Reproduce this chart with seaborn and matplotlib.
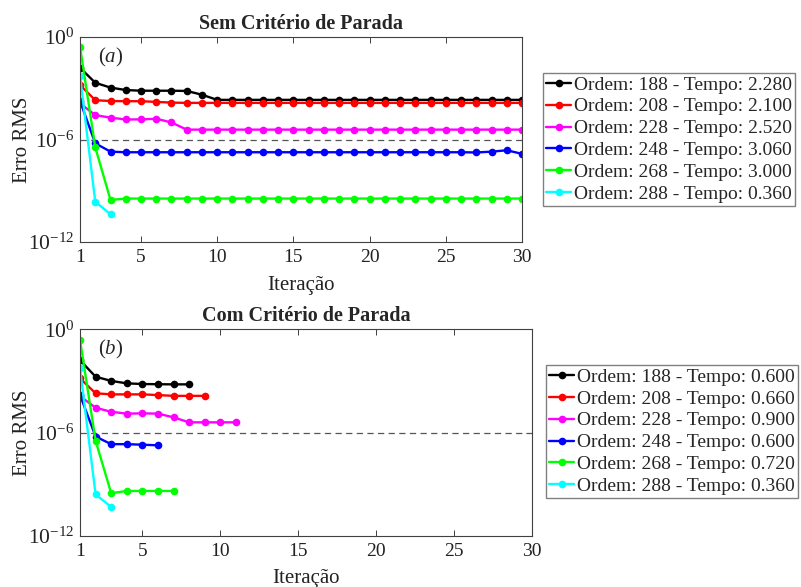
import numpy as np
import pandas as pd
import matplotlib
matplotlib.use("Agg")
import matplotlib.pyplot as plt
import seaborn as sns

# ---- data -------------------------------------------------------------
ordens = [188, 208, 228, 248, 268, 288]
cores = ["#000000", "#ff0000", "#ff00ff", "#0000ff", "#00ff00", "#00ffff"]

tempo_sem = ["2.280", "2.100", "2.520", "3.060", "3.000", "0.360"]
tempo_com = ["0.600", "0.660", "0.900", "0.600", "0.720", "0.360"]

# RMS error per iteration, without stopping criterion (30 iterations)
sem_188 = [1.6e-2, 2.1e-3, 1.1e-3, 7.9e-4, 7.2e-4, 7.2e-4, 7.2e-4, 7.0e-4, 4.2e-4, 2.1e-4,
           2.1e-4, 2.1e-4, 2.1e-4, 2.1e-4, 2.1e-4, 2.1e-4, 2.1e-4, 2.1e-4, 2.1e-4, 2.1e-4,
           2.1e-4, 2.1e-4, 2.1e-4, 2.1e-4, 2.1e-4, 2.1e-4, 2.1e-4, 2.1e-4, 2.1e-4, 2.1e-4]
sem_208 = [1.55e-3, 2.0e-4, 1.8e-4, 1.75e-4, 1.75e-4, 1.6e-4, 1.45e-4, 1.4e-4, 1.4e-4, 1.4e-4,
           1.4e-4, 1.4e-4, 1.4e-4, 1.4e-4, 1.4e-4, 1.4e-4, 1.4e-4, 1.4e-4, 1.4e-4, 1.4e-4,
           1.4e-4, 1.4e-4, 1.4e-4, 1.4e-4, 1.4e-4, 1.4e-4, 1.4e-4, 1.4e-4, 1.4e-4, 1.4e-4]
sem_228 = [1.3e-4, 2.7e-5, 1.9e-5, 1.5e-5, 1.5e-5, 1.65e-5, 1.0e-5, 3.8e-6, 3.8e-6, 3.8e-6,
           3.8e-6, 3.8e-6, 3.8e-6, 3.8e-6, 3.8e-6, 3.8e-6, 3.8e-6, 3.8e-6, 3.8e-6, 3.8e-6,
           3.8e-6, 3.8e-6, 3.8e-6, 3.8e-6, 3.8e-6, 3.8e-6, 3.8e-6, 3.8e-6, 3.8e-6, 3.8e-6]
sem_248 = [1.8e-4, 6.0e-7, 1.95e-7, 1.8e-7, 1.8e-7, 1.8e-7, 1.8e-7, 1.8e-7, 1.8e-7, 1.8e-7,
           1.8e-7, 1.8e-7, 1.8e-7, 1.8e-7, 1.8e-7, 1.8e-7, 1.8e-7, 1.8e-7, 1.8e-7, 1.8e-7,
           1.8e-7, 1.8e-7, 1.8e-7, 1.8e-7, 1.8e-7, 1.8e-7, 1.75e-7, 1.95e-7, 2.35e-7, 1.45e-7]
sem_268 = [2.7e-1, 3.5e-7, 2.9e-10, 3.5e-10, 3.5e-10, 3.5e-10, 3.5e-10, 3.5e-10, 3.5e-10, 3.5e-10,
           3.5e-10, 3.5e-10, 3.5e-10, 3.5e-10, 3.5e-10, 3.5e-10, 3.5e-10, 3.5e-10, 3.5e-10, 3.5e-10,
           3.5e-10, 3.5e-10, 3.5e-10, 3.5e-10, 3.5e-10, 3.5e-10, 3.5e-10, 3.5e-10, 3.5e-10, 3.5e-10]
sem_288 = [5.2e-3, 2.3e-10, 4.2e-11]

# RMS error per iteration, with stopping criterion
com_188 = [1.6e-2, 1.75e-3, 1.0e-3, 7.2e-4, 6.6e-4, 6.4e-4, 6.3e-4, 6.3e-4]
com_208 = [1.4e-3, 1.9e-4, 1.65e-4, 1.65e-4, 1.65e-4, 1.5e-4, 1.35e-4, 1.35e-4, 1.35e-4]
com_228 = [1.3e-4, 2.75e-5, 1.6e-5, 1.25e-5, 1.3e-5, 1.25e-5, 7.6e-6, 3.9e-6, 3.9e-6, 3.9e-6, 3.9e-6]
com_248 = [1.5e-4, 5.8e-7, 2.1e-7, 2.1e-7, 1.95e-7, 1.8e-7]
com_268 = [2.4e-1, 3.3e-7, 2.95e-10, 4.0e-10, 4.0e-10, 4.0e-10, 4.0e-10]
com_288 = [5.4e-3, 2.5e-10, 4.7e-11]

tolerancia = 1e-6
x_ticks = [1, 5, 10, 15, 20, 25, 30]
y_ticks = [1e0, 1e-6, 1e-12]


def montar(series, tempos):
    linhas = []
    for ordem, tempo, erros in zip(ordens, tempos, series):
        rotulo = f"Ordem: {ordem} - Tempo: {tempo}"
        for i, e in enumerate(erros, start=1):
            linhas.append({"Iteração": i, "Erro": e, "serie": rotulo})
    return pd.DataFrame(linhas)


df_sem = montar([sem_188, sem_208, sem_228, sem_248, sem_268, sem_288], tempo_sem)
df_com = montar([com_188, com_208, com_228, com_248, com_268, com_288], tempo_com)

# ---- style ------------------------------------------------------------
sns.set_style("ticks")
plt.rcParams["font.family"] = ["Liberation Serif", "DejaVu Serif"]
plt.rcParams["mathtext.fontset"] = "custom"
plt.rcParams["mathtext.rm"] = "Liberation Serif"
plt.rcParams["mathtext.it"] = "Liberation Serif:italic"
plt.rcParams["axes.unicode_minus"] = False
plt.rcParams["axes.edgecolor"] = "#404040"
plt.rcParams["axes.linewidth"] = 0.8

fig = plt.figure(figsize=(8.01, 5.87), dpi=100)
ax_a = fig.add_axes([0.0999, 0.5877, 0.5518, 0.3492])
ax_b = fig.add_axes([0.0999, 0.0874, 0.5643, 0.3516])


def painel(ax, df, titulo, letra, leg_anchor):
    rotulos = list(dict.fromkeys(df["serie"]))
    paleta = dict(zip(rotulos, cores))
    sns.lineplot(data=df, x="Iteração", y="Erro", hue="serie", hue_order=rotulos,
                 palette=paleta, marker="o", markersize=5.5, markeredgewidth=0,
                 linewidth=1.7, ax=ax, sort=False, estimator=None)
    ax.axhline(tolerancia, color="#555555", linestyle=(0, (5, 3.5)), linewidth=0.9, zorder=1)
    ax.set_yscale("log")
    ax.set_ylim(1e-12, 1e0)
    ax.set_xlim(1, 30)
    ax.set_xticks(x_ticks)
    ax.set_yticks(y_ticks)
    ax.yaxis.set_minor_locator(matplotlib.ticker.NullLocator())
    ax.tick_params(direction="in", top=True, right=True, length=4, width=0.7,
                   labelsize=14, colors="#404040", labelcolor="#222222", pad=5)
    ax.tick_params(axis="y", labelsize=15.5, pad=4)
    ax.set_xlabel("Iteração", fontsize=15, color="#222222", labelpad=7)
    ax.set_ylabel("Erro RMS", fontsize=15, color="#222222", labelpad=-3)
    ax.set_title(titulo, fontsize=14.5, fontweight="bold", pad=6)
    ax.text(0.04, 0.90, "(" + r"$\it{" + letra + "}$" + ")", transform=ax.transAxes,
            fontsize=15, va="center", ha="left")
    handles, labels = ax.get_legend_handles_labels()
    ax.legend(handles, labels, loc="upper left", bbox_to_anchor=leg_anchor,
              bbox_transform=fig.transFigure, fontsize=14, frameon=True,
              fancybox=False, edgecolor="#808080", framealpha=1,
              handlelength=1.3, handletextpad=0.12, labelspacing=0.22,
              borderpad=0.15, borderaxespad=0)


painel(ax_a, df_sem, "Sem Critério de Parada", "a", (0.678, 0.8756))
painel(ax_b, df_com, "Com Critério de Parada", "b", (0.682, 0.378))

fig.savefig("out.png", dpi=100)
